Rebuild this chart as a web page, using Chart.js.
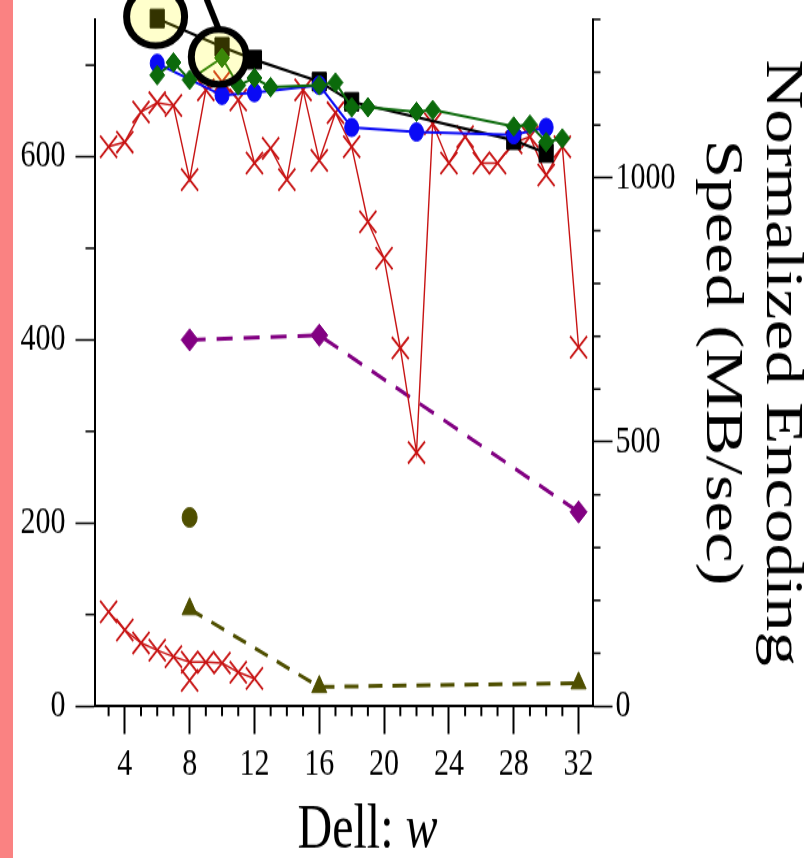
<!DOCTYPE html>
<html><head><meta charset="utf-8">
<script src="https://cdn.jsdelivr.net/npm/chart.js@4/dist/chart.umd.min.js"></script>
<style>
html,body{margin:0;padding:0;background:#fff;overflow:hidden;width:808px;height:858px;}
#wrap{position:absolute;left:0;top:0;width:808px;height:660px;transform:scaleY(1.3);transform-origin:0 0;}
</style></head><body>
<div id="wrap"><canvas id="c" width="808" height="660"></canvas></div>
<script>
const STRETCH = 858 / 660;

// ---- data (x = w, values in left-axis units) ----
const blackW = [6, 10, 12, 16, 18, 28, 30];
const blackV = [751, 720, 706, 682, 660, 618, 604];

const blueW = [6, 10, 12, 16, 18, 22, 28, 30];
const blueV = [702, 667, 670, 678, 632, 627, 624, 632];

const greenW = [6, 7, 8, 10, 11, 12, 13, 16, 17, 18, 19, 22, 23, 28, 29, 30, 31];
const greenV = [689, 703, 684, 708, 678, 686, 676, 678, 681, 654, 654, 649, 651, 633, 635, 616, 620];

const redTopW = [3, 4, 5, 6, 7, 8, 9, 10, 11, 12, 13, 14, 15, 16, 17, 18, 19, 20, 21, 22, 23, 24, 25, 26, 27, 28, 29, 30, 31, 32];
const redTopV = [611, 616, 649, 659, 656, 575, 673, 682, 662, 593, 609, 575, 673, 596, 648, 611, 529, 489, 391, 277, 636, 593, 622, 593, 593, 615, 622, 580, 611, 392];

const redLowW = [3, 4, 5, 6, 7, 8, 9, 10, 11, 12];
const redLowV = [103, 83, 69, 61, 54, 48, 48, 47, 37, 30];

const redExtraW = [8];
const redExtraV = [28];

const purpleW = [8, 16, 32];
const purpleV = [400, 405, 212];

const oliveDotW = [8];
const oliveDotV = [206];

const oliveTriW = [8, 16, 32];
const oliveTriV = [106, 21, 25];

// highlight callouts (position in data units)
const highlightW = [5.9, 9.8];
const highlightV = [753, 709];

// ---- ticks ----
const xTicks = [4, 8, 12, 16, 20, 24, 28, 32];
const xMinor = [3, 5, 6, 7, 9, 10, 11, 13, 14, 15, 17, 18, 19, 21, 22, 23, 25, 26, 27, 29, 30, 31];
const leftTicks = [0, 200, 400, 600];
const leftMinor = [100, 300, 500, 700];
const rightTicks = [0, 500, 1000];
const rightMinor = [100, 200, 300, 400, 600, 700, 800, 900, 1100, 1200, 1300];

const rightTitle = ['Normalized Encoding', 'Speed (MB/sec)'];
const xTitleA = 'Dell: ';
const xTitleB = 'w';

const pts = (ws, vs) => ws.map((w, i) => ({x: w, y: vs[i]}));

const FONT = 'Liberation Serif';
const RED = '#c81414', GREEN = '#0b6a0b', BLUE = '#0a0af5', PURPLE = '#820082', OLIVE = '#4f4f00';

const extras = {
  id: 'extras',
  beforeDraw(chart) {
    const ctx = chart.ctx;
    ctx.save();
    ctx.fillStyle = '#ffffff';
    ctx.fillRect(0, 0, chart.width, chart.height);
    ctx.fillStyle = '#fa8282';
    ctx.fillRect(0, 0, 13, chart.height);
    ctx.restore();
  },
  afterDraw(chart) {
    const ctx = chart.ctx, xs = chart.scales.x, ys = chart.scales.y, y2 = chart.scales.y2, ca = chart.chartArea;
    ctx.save();
    ctx.strokeStyle = '#000';
    const seg = (a, b, c, d) => { ctx.beginPath(); ctx.moveTo(a, b); ctx.lineTo(c, d); ctx.stroke(); };
    ctx.lineWidth = 1.5;
    leftMinor.forEach(v => { const p = ys.getPixelForValue(v); seg(ca.left - 9, p, ca.left, p); });
    rightMinor.forEach(v => { const p = y2.getPixelForValue(v); seg(ca.right, p, ca.right + 8, p); });
    ctx.lineWidth = 2;
    xMinor.forEach(v => { const p = xs.getPixelForValue(v); seg(p, ca.bottom, p, ca.bottom + 7.7); });

    // x axis title with italic w
    ctx.fillStyle = '#000';
    ctx.textBaseline = 'alphabetic';
    const fN = '48px "' + FONT + '"', fI = 'italic 48px "' + FONT + '"';
    ctx.font = fN; const wa = ctx.measureText(xTitleA).width;
    ctx.font = fI; const wb = ctx.measureText(xTitleB).width;
    const cx = (xs.left + xs.right) / 2 + 24;
    const x0 = cx - (wa + wb) / 2, by = xs.bottom - 8;
    ctx.font = fN; ctx.fillText(xTitleA, x0, by);
    ctx.font = fI; ctx.fillText(xTitleB, x0 + wa, by);

    // highlight rings
    const radii = [29, 27.5];
    highlightW.forEach((w, i) => {
      const px = xs.getPixelForValue(w), py = ys.getPixelForValue(highlightV[i]);
      ctx.save();
      ctx.translate(px, py);
      ctx.scale(1, 1 / STRETCH);
      const r = radii[i];
      ctx.beginPath(); ctx.arc(0, 0, r, 0, Math.PI * 2);
      ctx.fillStyle = 'rgba(255,255,0,0.2)'; ctx.fill();
      ctx.lineWidth = 7; ctx.strokeStyle = '#000'; ctx.stroke();
      if (i === 1) {
        ctx.lineWidth = 6; ctx.lineCap = 'butt';
        ctx.beginPath(); ctx.moveTo(0, -r); ctx.lineTo(-28, -r - 70); ctx.stroke();
      }
      ctx.restore();
    });
    ctx.restore();
  }
};

const tickFont = {family: FONT, size: 30};
const noPad = s => { s.paddingTop = 0; s.paddingBottom = 0; s.paddingLeft = 0; s.paddingRight = 0; };

new Chart(document.getElementById('c'), {
  type: 'scatter',
  data: {
    datasets: [
      {data: pts(greenW, greenV), showLine: true, borderColor: GREEN, backgroundColor: GREEN, borderWidth: 2,
       pointStyle: 'rectRot', pointRadius: 7.5, pointBorderWidth: 1, order: 1, clip: false},
      {data: pts(blueW, blueV), showLine: true, borderColor: BLUE, backgroundColor: BLUE, borderWidth: 2,
       pointStyle: 'circle', pointRadius: 7, pointBorderWidth: 1, order: 2, clip: false},
      {data: pts(blackW, blackV), showLine: true, borderColor: '#000', backgroundColor: '#000', borderWidth: 2.2,
       pointStyle: 'rect', pointRadius: 10, pointBorderWidth: 1, order: 3, clip: false},
      {data: pts(redTopW, redTopV), showLine: true, borderColor: RED, backgroundColor: RED, borderWidth: 1.4,
       pointStyle: 'crossRot', pointRadius: 12, pointBorderWidth: 1.8, order: 4, clip: false},
      {data: pts(redLowW, redLowV), showLine: true, borderColor: RED, backgroundColor: RED, borderWidth: 1.4,
       pointStyle: 'crossRot', pointRadius: 12, pointBorderWidth: 1.8, order: 4, clip: false},
      {data: pts(redExtraW, redExtraV), showLine: false, borderColor: RED, backgroundColor: RED,
       pointStyle: 'crossRot', pointRadius: 12, pointBorderWidth: 1.8, order: 4, clip: false},
      {data: pts(purpleW, purpleV), showLine: true, borderColor: PURPLE, backgroundColor: PURPLE, borderWidth: 3,
       borderDash: [16, 11], pointStyle: 'rectRot', pointRadius: 8.5, pointBorderWidth: 1, order: 5, clip: false},
      {data: pts(oliveDotW, oliveDotV), showLine: false, borderColor: OLIVE, backgroundColor: OLIVE,
       pointStyle: 'circle', pointRadius: 7.5, pointBorderWidth: 1, order: 5, clip: false},
      {data: pts(oliveTriW, oliveTriV), showLine: true, borderColor: OLIVE, backgroundColor: OLIVE, borderWidth: 3,
       borderDash: [14, 10], pointStyle: 'triangle', pointRadius: 8.7, pointBorderWidth: 1, order: 5, clip: false}
    ]
  },
  options: {
    responsive: false,
    animation: false,
    devicePixelRatio: 1,
    events: [],
    layout: {padding: {top: 14.9, left: 0, right: 0, bottom: 0}},
    plugins: {legend: {display: false}, tooltip: {enabled: false}},
    elements: {line: {tension: 0, fill: false}},
    scales: {
      x: {
        type: 'linear', position: 'bottom', min: 2.13, max: 32.86,
        afterFit: s => { s.height = 116.9; noPad(s); },
        afterBuildTicks: s => { s.ticks = xTicks.map(v => ({value: v})); },
        ticks: {font: tickFont, color: '#000', padding: 6, autoSkip: false, maxRotation: 0, callback: v => String(v)},
        grid: {drawOnChartArea: false, drawTicks: true, tickLength: 21.5, tickWidth: 2, tickColor: '#000'},
        border: {display: true, color: '#000', width: 2}
      },
      y: {
        type: 'linear', position: 'left', min: 0, max: 750,
        afterFit: s => { s.width = 94.5; noPad(s); },
        afterBuildTicks: s => { s.ticks = leftTicks.map(v => ({value: v})); },
        ticks: {font: tickFont, color: '#000', padding: 10, autoSkip: false, callback: v => String(v)},
        grid: {drawOnChartArea: false, drawTicks: true, tickLength: 19, tickWidth: 1.5, tickColor: '#000'},
        border: {display: true, color: '#000', width: 2}
      },
      y2: {
        type: 'linear', position: 'right', min: 0, max: 1300,
        afterFit: s => { s.width = 215.5; noPad(s); },
        afterBuildTicks: s => { s.ticks = rightTicks.map(v => ({value: v})); },
        ticks: {font: tickFont, color: '#000', padding: 3, autoSkip: false, callback: v => String(v)},
        grid: {drawOnChartArea: false, drawTicks: true, tickLength: 20, tickWidth: 1.5, tickColor: '#000'},
        border: {display: true, color: '#000', width: 2},
        title: {display: true, text: rightTitle, color: '#000', font: {family: FONT, size: 53, lineHeight: 1.132}, padding: {top: -3, bottom: 0}}
      }
    }
  },
  plugins: [extras]
});
</script>
</body></html>
